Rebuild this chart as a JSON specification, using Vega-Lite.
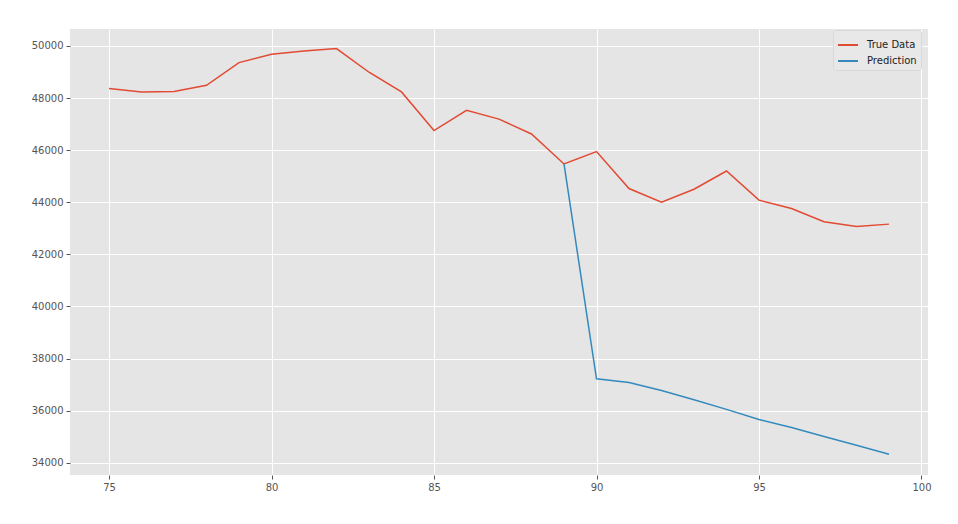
{
  "$schema": "https://vega.github.io/schema/vega-lite/v6.json",
  "autosize": "none",
  "width": 858,
  "height": 446,
  "padding": {"left": 70, "top": 29, "right": 30, "bottom": 49},
  "background": "white",
  "config": {
    "font": "DejaVu Sans",
    "view": {"fill": "#E5E5E5", "stroke": null},
    "axis": {
      "domain": false,
      "grid": true,
      "gridColor": "#FFFFFF",
      "gridWidth": 1,
      "tickColor": "#555555",
      "tickSize": 4,
      "tickWidth": 1,
      "labelColor": "#555555",
      "labelFontSize": 10,
      "labelFont": "DejaVu Sans",
      "title": null
    }
  },
  "data": {
    "values": [
      {"x": 75, "y": 48370, "series": "True Data"},
      {"x": 76, "y": 48235, "series": "True Data"},
      {"x": 77, "y": 48250, "series": "True Data"},
      {"x": 78, "y": 48490, "series": "True Data"},
      {"x": 79, "y": 49360, "series": "True Data"},
      {"x": 80, "y": 49680, "series": "True Data"},
      {"x": 81, "y": 49810, "series": "True Data"},
      {"x": 82, "y": 49900, "series": "True Data"},
      {"x": 83, "y": 48990, "series": "True Data"},
      {"x": 84, "y": 48235, "series": "True Data"},
      {"x": 85, "y": 46750, "series": "True Data"},
      {"x": 86, "y": 47530, "series": "True Data"},
      {"x": 87, "y": 47190, "series": "True Data"},
      {"x": 88, "y": 46620, "series": "True Data"},
      {"x": 89, "y": 45470, "series": "True Data"},
      {"x": 90, "y": 45945, "series": "True Data"},
      {"x": 91, "y": 44525, "series": "True Data"},
      {"x": 92, "y": 44000, "series": "True Data"},
      {"x": 93, "y": 44500, "series": "True Data"},
      {"x": 94, "y": 45200, "series": "True Data"},
      {"x": 95, "y": 44080, "series": "True Data"},
      {"x": 96, "y": 43760, "series": "True Data"},
      {"x": 97, "y": 43250, "series": "True Data"},
      {"x": 98, "y": 43070, "series": "True Data"},
      {"x": 99, "y": 43160, "series": "True Data"},
      {"x": 89, "y": 45470, "series": "Prediction"},
      {"x": 90, "y": 37220, "series": "Prediction"},
      {"x": 91, "y": 37080, "series": "Prediction"},
      {"x": 92, "y": 36770, "series": "Prediction"},
      {"x": 93, "y": 36420, "series": "Prediction"},
      {"x": 94, "y": 36050, "series": "Prediction"},
      {"x": 95, "y": 35660, "series": "Prediction"},
      {"x": 96, "y": 35350, "series": "Prediction"},
      {"x": 97, "y": 35010, "series": "Prediction"},
      {"x": 98, "y": 34670, "series": "Prediction"},
      {"x": 99, "y": 34330, "series": "Prediction"}
    ]
  },
  "mark": {"type": "line", "strokeWidth": 1.5, "clip": true},
  "encoding": {
    "x": {
      "field": "x",
      "type": "quantitative",
      "scale": {"domain": [73.8, 100.2], "nice": false, "zero": false},
      "axis": {"values": [75, 80, 85, 90, 95, 100], "labelPadding": 3}
    },
    "y": {
      "field": "y",
      "type": "quantitative",
      "scale": {"domain": [33530, 50650], "nice": false, "zero": false},
      "axis": {"values": [34000, 36000, 38000, 40000, 42000, 44000, 46000, 48000, 50000], "format": "d", "labelPadding": 3}
    },
    "color": {
      "field": "series",
      "type": "nominal",
      "scale": {"domain": ["True Data", "Prediction"], "range": ["#E24A33", "#348ABD"]},
      "legend": {
        "title": null,
        "orient": "none",
        "legendX": 763,
        "legendY": 1,
        "fillColor": "#E8E8E8",
        "strokeColor": "#D8D8D8",
        "cornerRadius": 3,
        "padding": 4,
        "symbolType": "stroke",
        "symbolSize": 400,
        "symbolStrokeWidth": 2,
        "labelFontSize": 10,
        "labelColor": "#222222",
        "labelFont": "DejaVu Sans",
        "labelOffset": 8,
        "rowPadding": -7
      }
    }
  }
}
